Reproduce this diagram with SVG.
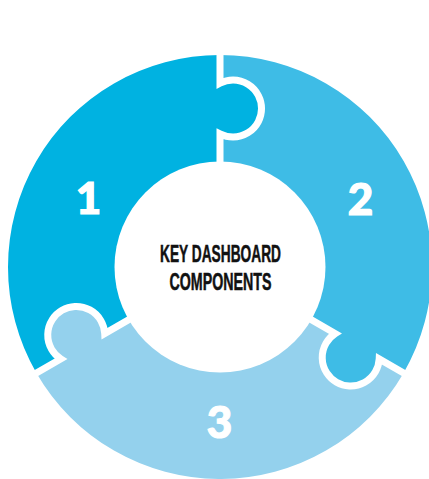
<svg xmlns="http://www.w3.org/2000/svg" width="429" height="479" viewBox="0 0 429 479">
  <defs>
    <style>
      .p1 { fill: #00B2E1; }
      .p2 { fill: #3EBCE6; }
      .p3 { fill: #94D1ED; }
      .seam { fill: none; stroke: #FFFFFF; stroke-width: 7; }
      .num { font-family: Lato, "Liberation Sans", Arial, sans-serif; font-weight: 900; font-size: 44px; fill: #FFFFFF; stroke: #FFFFFF; stroke-width: 1.2; text-anchor: middle; }
      .title { font-family: "Liberation Sans", Arial, sans-serif; font-weight: 700; font-size: 23px; fill: #111111; stroke: #111111; stroke-width: 0.5; text-anchor: middle; }
    </style>
    <!-- one seam (top), with the puzzle tab outline bulging clockwise -->
    <path id="seamPath" d="M220,172 L220,133.88 A28.5,28.5 0 1 0 220,83.18 L220,47"/>
  </defs>

  <rect width="429" height="479" fill="#FFFFFF"/>

  <!-- each piece: outer arc, seam with tab or socket, inner arc, seam back -->
  <g id="piece-1">
    <path class="p1" d="M36.4,373 A212,212 0 0 1 220,55 L220,83.18 A28.5,28.5 0 1 1 220,133.88 L220,167 A100,100 0 0 0 133.4,317 L104.71,333.56 A28.5,28.5 0 1 0 60.81,358.91 Z"/>
  </g>

  <g id="piece-2">
    <path class="p2" d="M220,55 A212,212 0 0 1 403.6,373 L379.19,358.91 A28.5,28.5 0 1 1 335.29,333.56 L306.6,317 A100,100 0 0 0 220,167 L220,133.88 A28.5,28.5 0 1 0 220,83.18 Z"/>
  </g>

  <g id="piece-3">
    <path class="p3" d="M403.6,373 A212,212 0 0 1 36.4,373 L60.81,358.91 A28.5,28.5 0 1 1 104.71,333.56 L133.4,317 A100,100 0 0 0 306.6,317 L335.29,333.56 A28.5,28.5 0 1 0 379.19,358.91 Z"/>
  </g>

  <g id="seams">
    <use href="#seamPath" class="seam"/>
    <use href="#seamPath" class="seam" transform="rotate(120 220 267)"/>
    <use href="#seamPath" class="seam" transform="rotate(240 220 267)"/>
  </g>

  <g id="center">
    <circle cx="220" cy="267" r="105.5" fill="#FFFFFF"/>
    <text class="title" x="220.5" y="261.7" textLength="121" lengthAdjust="spacingAndGlyphs">KEY DASHBOARD</text>
    <text class="title" x="220.5" y="290.3" textLength="102" lengthAdjust="spacingAndGlyphs">COMPONENTS</text>
  </g>

  <g id="labels">
    <text class="num" x="88.5" y="214">1</text>
    <text class="num" x="360.5" y="215">2</text>
    <text class="num" x="219.5" y="438">3</text>
  </g>
</svg>
